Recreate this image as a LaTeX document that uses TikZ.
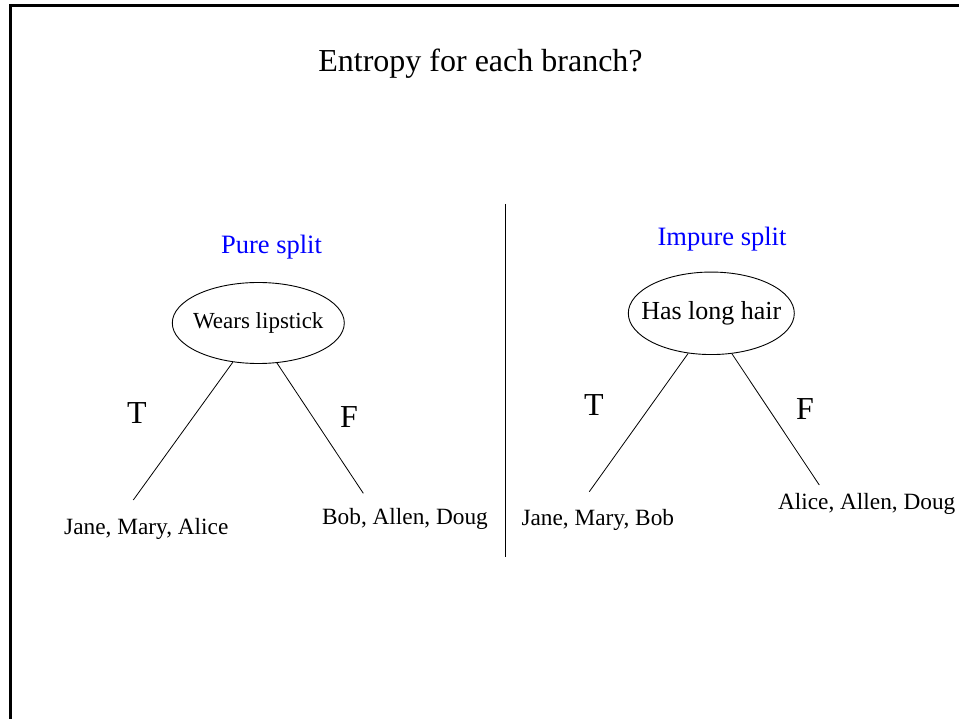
\documentclass[tikz,border=0pt]{standalone}
\usepackage{fontspec}
\setmainfont{Liberation Serif}
\usetikzlibrary{shapes.geometric}
\newcommand{\fsz}[1]{\fontsize{#1}{#1}\selectfont}
\tikzset{
  txt/.style={inner sep=0pt, anchor=base},
  splitbox/.style={draw, ellipse, inner sep=0pt, line width=0.9pt},
  edge/.style={line width=0.8pt},
}
\begin{document}
\begin{tikzpicture}[x=1pt,y=-1pt]
\useasboundingbox (0,0) rectangle (959,719);
% frame
\draw[line width=2.6pt] (10.3,719) -- (10.3,5.3) -- (959,5.3);
% title
\node[txt] (title) at (480.5,72) {\fsz{32}Entropy for each branch?};
% divider
\coordinate (dtop) at (505.5,204);
\coordinate (dbot) at (505.5,557);
\draw[line width=0.9pt] (dtop) -- (dbot);
% headings
\node[txt, text=blue] (pure) at (271.5,254) {\fsz{26.5}Pure split};
\node[txt, text=blue] (impure) at (722,245.5) {\fsz{26.5}Impure split};
% ellipses
\node[splitbox, minimum width=172, minimum height=81] (e1) at (258.3,323)
  {\makebox[0pt]{\fsz{23}Wears lipstick}};
\node[splitbox, minimum width=166, minimum height=82.5] (e2) at (711.3,313.3)
  {\makebox[0pt]{\fsz{26}Has long hair}};
% branch ends
\coordinate (a1) at (133.3,500);
\coordinate (a2) at (363.3,493.3);
\coordinate (b1) at (589.3,491.7);
\coordinate (b2) at (819.3,485);
\draw[edge] (e1.237) -- (a1);
\draw[edge] (e1.295.7) -- (a2);
\draw[edge] (e2.240.8) -- (b1);
\draw[edge] (e2.297.5) -- (b2);
% T / F labels
\node[txt] (t1) at (137,424) {\fsz{32}T};
\node[txt] (f1) at (349,427) {\fsz{32}F};
\node[txt] (t2) at (594,416) {\fsz{32}T};
\node[txt] (f2) at (805,420) {\fsz{32}F};
% leaves
\node[txt] (l1) at (146.3,534.3) {\fsz{23.3}Jane, Mary, Alice};
\node[txt] (l2) at (405,524.3) {\fsz{23.3}Bob, Allen, Doug};
\node[txt] (l3) at (597.8,525) {\fsz{23.3}Jane, Mary, Bob};
\node[txt] (l4) at (866.7,509.3) {\fsz{23.3}Alice, Allen, Doug};
\end{tikzpicture}
\end{document}
